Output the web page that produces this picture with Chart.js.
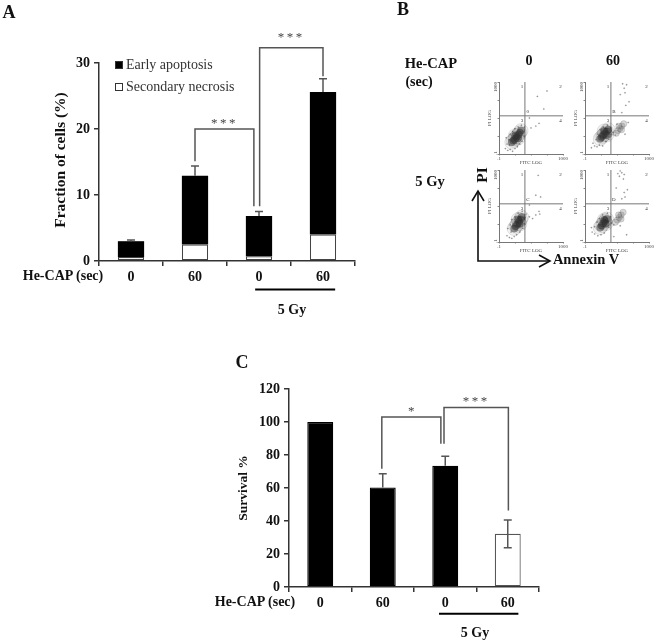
<!DOCTYPE html>
<html>
<head>
<meta charset="utf-8">
<title>He-CAP apoptosis and survival</title>
<script src="https://cdn.jsdelivr.net/npm/chart.js@4"></script>
<style>
  html, body { margin: 0; padding: 0; background: #fff; }
  #page { position: relative; width: 660px; height: 643px; overflow: hidden; font-family: 'Liberation Serif', serif; }
  #page canvas { position: absolute; }
  .lbl { position: absolute; white-space: nowrap; transform: translate(-50%, -50%); color: #111; font-weight: bold; font-size: 14px; line-height: 1; }
  .leg { position: absolute; left: 126px; white-space: nowrap; color: #333; font-size: 14px; line-height: 1; transform: translateY(-50%); }
  .swatch { position: absolute; left: 115px; width: 8px; height: 8px; box-sizing: border-box; border: 1px solid #333; }
  canvas.flow { filter: blur(0.5px); }
  svg { position: absolute; left: 0; top: 0; }
</style>
</head>
<body>
<div id="page">
  <canvas id="chart-a" width="370" height="330" style="left:0;top:0"></canvas>
  <canvas id="chart-c" width="340" height="298" style="left:200px;top:345px"></canvas>
  <canvas id="flow-1" class="flow" width="84" height="92" style="left:487px;top:74px"></canvas>
  <canvas id="flow-2" class="flow" width="84" height="92" style="left:573px;top:74px"></canvas>
  <canvas id="flow-3" class="flow" width="84" height="92" style="left:487px;top:162px"></canvas>
  <canvas id="flow-4" class="flow" width="84" height="92" style="left:573px;top:162px"></canvas>
  <svg width="660" height="643" fill="none" stroke="#111" stroke-width="1.6">
    <path d="M478 191V261H549"/>
    <path d="M472 201L478 191L484 201"/>
    <path d="M539 255L550 261L539 267"/>
  </svg>
</div>
<script>
'use strict';

const doses = ['0', '60', '0', '60'];

// Panel A, fraction of cells (%)
const necrosis = [0.6, 2.5, 0.7, 4.0];
const earlyApoptosis = [2.4, 10.4, 6.1, 21.6];
const fractionErrTop = [3.2, 14.4, 7.5, 27.6];
const fractionTicks = [0, 10, 20, 30];
const legendLabels = ['Early apoptosis', 'Secondary necrosis'];

// Panel C, survival %
const survival = [100, 60.3, 73.5, 32.3];
const survivalErrTop = [null, 68.6, 79.2, 40.6];
const survivalErrBottom = [null, null, null, 23.8];
const survivalTicks = [0, 20, 40, 60, 80, 100, 120];

// [left index, right index, top, left end, right end, stars, star gap]
const bracketsA = [
  [1, 1.92, 20, 15.1, 8.3, '***', 5],
  [2.01, 3, 32.3, 8.3, 28, '***', 10.5]
];
const bracketsC = [
  [0.985, 1.93, 103, 71.7, 86.8, '*', 5.3],
  [1.98, 3.01, 108.8, 86.8, 46.4, '***', 5.7]
];

// Panel B, values in decades above 0.1 on both log axes (FITC, PI)
const gateX = 1.62;
const gateY = 2.12;
const flow1Core = [[0.8,0.65],[0.9,0.75],[1.0,0.85],[1.1,0.95],[1.2,1.05],[1.3,1.18],[1.38,1.3],[1.02,1.02],[1.18,0.88]];
const flow1Dots = [[0.4,0.3],[0.55,0.2],[0.7,0.25],[0.85,0.15],[1.0,0.3],[1.15,0.4],[0.5,0.55],[0.6,0.8],[0.45,0.9],[0.7,1.1],[0.85,1.25],[1.0,1.4],[1.2,1.5],[1.4,1.6],[1.5,1.25],[1.55,1.0],[1.45,0.7],[1.3,0.55],[0.65,0.5],[1.6,1.5],[2.0,1.45],[2.3,1.55],[2.5,1.7],[1.9,2.0],[2.4,3.2],[3.0,3.5],[2.8,2.5],[1.1,0.6]];
const flow2Core = [[0.95,0.85],[1.05,0.95],[1.15,1.05],[1.25,1.15],[1.35,1.25],[1.45,1.35],[1.2,1.28],[1.35,1.05]];
const flow2Dots = [[0.5,0.6],[0.6,0.45],[0.75,0.4],[0.9,0.5],[1.1,0.45],[0.7,0.8],[0.8,1.1],[0.95,1.35],[1.15,1.5],[1.4,1.6],[1.6,1.45],[1.65,1.1],[1.5,0.8],[1.3,0.7],[0.4,0.35],[1.75,1.2],[1.9,1.05],[2.0,1.65],[2.5,1.1],[2.7,1.75],[2.3,2.3],[2.55,2.7],[2.75,2.9],[2.2,3.3],[2.45,3.65],[2.6,3.85],[2.35,3.9],[2.5,3.4]];
const flow2Side = [[1.95,1.15],[2.05,1.3],[2.18,1.42],[2.3,1.55],[2.42,1.68],[2.12,1.55],[2.28,1.35]];
const flow3Core = [[0.95,0.75],[1.05,0.88],[1.15,1.0],[1.25,1.12],[1.35,1.25],[1.42,1.38],[1.2,1.25],[1.3,1.0]];
const flow3Dots = [[0.5,0.35],[0.65,0.25],[0.8,0.2],[0.95,0.3],[1.1,0.4],[1.3,0.55],[0.55,0.75],[0.7,0.95],[0.8,1.25],[1.0,1.4],[1.2,1.6],[1.45,1.7],[1.6,1.35],[1.6,1.0],[1.5,0.75],[0.75,0.55],[1.7,1.55],[1.9,1.4],[2.1,1.3],[2.3,1.5],[2.5,1.7],[2.55,1.55],[2.6,2.5],[2.3,2.6],[2.45,3.7],[1.9,2.05]];
const flow4Core = [[0.95,0.8],[1.05,0.92],[1.15,1.05],[1.25,1.15],[1.35,1.28],[1.2,1.22],[1.3,1.02]];
const flow4Dots = [[0.45,0.55],[0.6,0.45],[0.8,0.35],[1.0,0.4],[1.2,0.5],[0.6,0.85],[0.75,1.1],[0.9,1.3],[1.1,1.5],[1.4,1.6],[1.6,1.4],[1.65,1.05],[1.5,0.8],[0.4,0.8],[1.8,0.95],[2.6,0.4],[1.8,0.3],[2.2,0.9],[2.3,2.4],[2.45,2.75],[2.65,2.9],[2.5,2.5],[1.95,3.0],[2.15,3.65],[2.3,3.85],[2.45,3.75],[2.2,3.95],[2.05,3.8],[2.4,3.5]];
const flow4Side = [[1.9,1.1],[2.02,1.22],[2.14,1.36],[2.26,1.5],[2.38,1.65],[2.1,1.5],[2.25,1.28]];
const gateLetters = ['0', 'B', 'C', 'D'];
const quadrantNames = ['1', '2', '3', '4'];

const serif = "'Liberation Serif', serif";
Chart.defaults.font.family = serif;
Chart.defaults.animation = false;
Chart.defaults.devicePixelRatio = 1;
Chart.defaults.responsive = false;
Chart.defaults.plugins.legend.display = false;
Chart.defaults.plugins.tooltip.enabled = false;

const barMarks = {
  id: 'barMarks',
  afterDraw(chart, args, opts) {
    const ctx = chart.ctx;
    const x = chart.scales.x;
    const y = chart.scales.y;
    ctx.save();
    ctx.strokeStyle = '#555';
    ctx.lineWidth = 1.5;
    // error bars
    opts.errTop.forEach((top, i) => {
      if (top === null) return;
      const px = x.getPixelForValue(i);
      const low = opts.errBottom && opts.errBottom[i] !== null && opts.errBottom[i] !== undefined ? opts.errBottom[i] : opts.totals[i];
      ctx.beginPath();
      ctx.moveTo(px, y.getPixelForValue(low));
      ctx.lineTo(px, y.getPixelForValue(top));
      ctx.moveTo(px - 4, y.getPixelForValue(top));
      ctx.lineTo(px + 4, y.getPixelForValue(top));
      if (low !== opts.totals[i]) {
        ctx.moveTo(px - 4, y.getPixelForValue(low));
        ctx.lineTo(px + 4, y.getPixelForValue(low));
      }
      ctx.stroke();
    });
    // significance brackets
    opts.brackets.forEach(b => {
      const xl = x.getPixelForValue(b[0]);
      const xr = x.getPixelForValue(b[1]);
      const top = y.getPixelForValue(b[2]);
      ctx.beginPath();
      ctx.moveTo(xl, y.getPixelForValue(b[3]));
      ctx.lineTo(xl, top);
      ctx.lineTo(xr, top);
      ctx.lineTo(xr, y.getPixelForValue(b[4]));
      ctx.stroke();
      ctx.fillStyle = '#444';
      ctx.font = '13px ' + serif;
      ctx.textAlign = 'center';
      ctx.textBaseline = 'middle';
      ctx.letterSpacing = b[5].length > 1 ? '2.5px' : '0px';
      ctx.fillText(b[5], (xl + xr) / 2, top - b[6]);
      ctx.letterSpacing = '0px';
    });
    // rule under the irradiated pair
    ctx.strokeStyle = '#000';
    ctx.lineWidth = 2;
    ctx.beginPath();
    ctx.moveTo(x.getPixelForValue(opts.rule[0]), y.getPixelForValue(opts.rule[2]));
    ctx.lineTo(x.getPixelForValue(opts.rule[1]), y.getPixelForValue(opts.rule[2]));
    ctx.stroke();
    ctx.restore();
  }
};

function barScales(yMax, ticks, step, tickSize, yWidth, xHeight) {
  return {
    x: {
      stacked: true,
      offset: true,
      afterFit(a) { a.height = xHeight; },
      border: { color: '#333', width: 1.5 },
      grid: { drawOnChartArea: false, color: '#333', tickLength: 5, lineWidth: 1.5, offset: true },
      ticks: { color: '#111', font: { size: tickSize, weight: 'bold' }, padding: 3, maxRotation: 0 }
    },
    y: {
      stacked: true,
      min: 0,
      max: yMax,
      afterFit(a) { a.width = yWidth; },
      afterBuildTicks(a) { a.ticks = ticks.map(v => ({ value: v })); },
      border: { color: '#333', width: 1.5 },
      grid: { drawOnChartArea: false, color: '#333', tickLength: 5, lineWidth: 1.5 },
      ticks: { color: '#111', stepSize: step, font: { size: tickSize, weight: 'bold' }, padding: 4 }
    }
  };
}

const totalsA = necrosis.map((v, i) => v + earlyApoptosis[i]);

new Chart(document.getElementById('chart-a'), {
  type: 'bar',
  plugins: [barMarks],
  data: {
    labels: doses,
    datasets: [
      { label: legendLabels[1], data: necrosis, backgroundColor: '#fff', borderColor: '#444', borderWidth: 1.2, borderSkipped: false, barPercentage: 0.41, categoryPercentage: 1 },
      { label: legendLabels[0], data: earlyApoptosis, backgroundColor: '#000', barPercentage: 0.41, categoryPercentage: 1 }
    ]
  },
  options: {
    layout: { padding: { left: 0, top: 63, right: 15, bottom: 39 } },
    scales: barScales(30, fractionTicks, 10, 14, 99, 30),
    plugins: {
      barMarks: { errTop: fractionErrTop, totals: totalsA, brackets: bracketsA, rule: [1.94, 3.19, -4.3] }
    }
  }
});

new Chart(document.getElementById('chart-c'), {
  type: 'bar',
  plugins: [barMarks],
  data: {
    labels: doses,
    datasets: [{
      label: 'Survival %',
      data: survival,
      backgroundColor: ['#000', '#000', '#000', '#fff'],
      borderColor: ['#000', '#000', '#000', '#555'],
      borderWidth: 1.2,
      borderSkipped: false,
      barPercentage: 0.415,
      categoryPercentage: 1
    }]
  },
  options: {
    layout: { padding: { left: 0, top: 44, right: 1, bottom: 25 } },
    scales: barScales(120, survivalTicks, 20, 14, 89, 31),
    plugins: {
      barMarks: { errTop: survivalErrTop, errBottom: survivalErrBottom, totals: survival, brackets: bracketsC, rule: [1.9, 3.17, -16.2] }
    }
  }
});

const flowText = {
  id: 'flowText',
  afterDraw(chart, args, opts) {
    const ctx = chart.ctx;
    const x = chart.scales.x;
    const y = chart.scales.y;
    ctx.save();
    ctx.fillStyle = '#333';
    ctx.font = '5px ' + serif;
    ctx.textAlign = 'center';
    ctx.textBaseline = 'middle';
    const spots = [[1.44, 3.76], [3.85, 3.76], [1.44, 1.87], [3.85, 1.87]];
    quadrantNames.forEach((q, i) => ctx.fillText(q, x.getPixelForValue(spots[i][0]), y.getPixelForValue(spots[i][1])));
    ctx.fillText(opts.letter, x.getPixelForValue(1.8), y.getPixelForValue(2.35));
    // rotated y tick labels, the library draws these flat
    [[0, '.1'], [4, '1000']].forEach(t => {
      ctx.save();
      ctx.translate(x.left - 3.5, y.getPixelForValue(t[0]) + (t[0] === 4 ? 5 : -1));
      ctx.rotate(-Math.PI / 2);
      ctx.fillText(t[1], 0, 0);
      ctx.restore();
    });
    ctx.restore();
  }
};

function toPoints(list) {
  return list.map(p => ({ x: p[0], y: p[1] }));
}

function flowChart(id, core, dots, side, letter) {
  const sets = [
    { data: toPoints(core), pointRadius: 7, backgroundColor: 'rgba(90,90,90,0.07)' },
    { data: toPoints(dots), pointRadius: 0.7, backgroundColor: 'rgba(80,80,80,0.5)' },
    { data: toPoints(core), pointRadius: 3.8, backgroundColor: 'rgba(20,20,20,0.45)' },
    { data: [{ x: gateX, y: 0 }, { x: gateX, y: 4 }], showLine: true, pointRadius: 0, borderColor: '#777', borderWidth: 1 },
    { data: [{ x: 0, y: gateY }, { x: 4, y: gateY }], showLine: true, pointRadius: 0, borderColor: '#777', borderWidth: 1 }
  ];
  if (side) sets.unshift({ data: toPoints(side), pointRadius: 3.2, backgroundColor: 'rgba(110,110,110,0.28)' });
  new Chart(document.getElementById(id), {
    type: 'scatter',
    plugins: [flowText],
    data: { datasets: sets },
    options: {
      layout: { padding: { left: 0, top: 8, right: 5, bottom: 0 } },
      plugins: { flowText: { letter } },
      scales: {
        x: {
          type: 'linear', min: 0, max: 4,
          afterFit(a) { a.height = 12; },
          border: { color: '#777' },
          grid: { drawOnChartArea: false, tickLength: 1.5, color: '#888' },
          ticks: { stepSize: 1, color: '#444', font: { size: 5 }, padding: 0, maxRotation: 0, callback: v => v === 0 ? '.1' : v === 4 ? '1000' : '' },
          title: { display: true, text: 'FITC LOG', color: '#444', font: { size: 5 }, padding: 0 }
        },
        y: {
          type: 'linear', min: 0, max: 4,
          afterFit(a) { a.width = 12; },
          position: 'left',
          border: { color: '#777' },
          grid: { drawOnChartArea: false, tickLength: 1.5, color: '#888' },
          ticks: { stepSize: 1, display: false },
          title: { display: true, text: 'PI LOG', color: '#444', font: { size: 5 }, padding: 0 }
        }
      }
    }
  });
}

flowChart('flow-1', flow1Core, flow1Dots, null, gateLetters[0]);
flowChart('flow-2', flow2Core, flow2Dots, flow2Side, gateLetters[1]);
flowChart('flow-3', flow3Core, flow3Dots, null, gateLetters[2]);
flowChart('flow-4', flow4Core, flow4Dots, flow4Side, gateLetters[3]);

// text around the plots: [text, centre x, centre y, size, rotated]
const labels = [
  ['A', 9, 12, 18], ['B', 403, 9, 18], ['C', 242, 362, 18],
  ['Fraction of cells (%)', 60, 160, 15.5, true],
  ['He-CAP (sec)', 63, 276, 14], ['5 Gy', 292, 310, 14],
  ['He-CAP', 431, 63, 14.5], ['(sec)', 419, 82, 14], ['0', 529, 61, 14], ['60', 613, 61, 14],
  ['5 Gy', 430, 181, 14.5], ['PI', 482, 175, 15.5, true], ['Annexin V', 586, 259, 14.5],
  ['Survival %', 243, 488, 13.5, true],
  ['He-CAP (sec)', 255, 602, 14], ['5 Gy', 475, 633, 14]
];

const page = document.getElementById('page');
labels.forEach(l => {
  const el = document.createElement('div');
  el.className = 'lbl';
  el.textContent = l[0];
  el.style.left = l[1] + 'px';
  el.style.top = l[2] + 'px';
  el.style.fontSize = l[3] + 'px';
  if (l[4]) el.style.transform = 'translate(-50%, -50%) rotate(-90deg)';
  page.appendChild(el);
});

legendLabels.forEach((name, i) => {
  const top = i === 0 ? 65 : 87;
  const box = document.createElement('div');
  box.className = 'swatch';
  box.style.top = (top - 4) + 'px';
  box.style.background = i === 0 ? '#000' : '#fff';
  page.appendChild(box);
  const txt = document.createElement('div');
  txt.className = 'leg';
  txt.textContent = name;
  txt.style.top = top + 'px';
  page.appendChild(txt);
});
</script>
</body>
</html>
